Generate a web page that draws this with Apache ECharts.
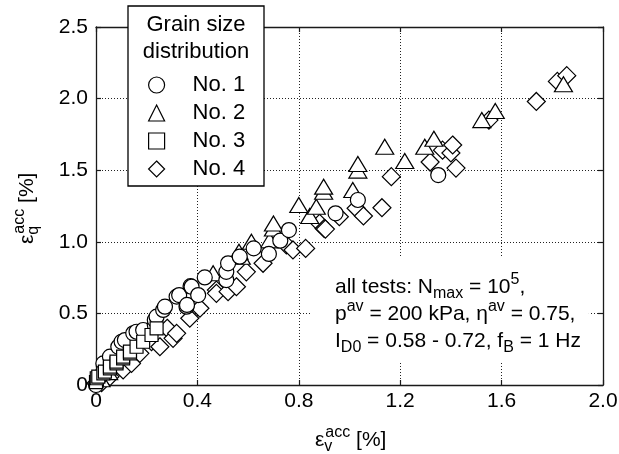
<!DOCTYPE html>
<html><head><meta charset="utf-8">
<script src="https://cdn.jsdelivr.net/npm/echarts@6/dist/echarts.min.js"></script>
<style>html,body{margin:0;padding:0;background:#fff}#c{width:619px;height:454px}</style>
</head><body><div id="c"></div>
<script>
// ---- data ----
const xTickLabels = ['0', '0.4', '0.8', '1.2', '1.6', '2.0'];
const yTickLabels = ['0', '0.5', '1.0', '1.5', '2.0', '2.5'];
const legendNames = ['No. 1', 'No. 2', 'No. 3', 'No. 4'];

// No. 1 (circles): [eps_v, eps_q]
const no1 = [[0.0,0.0],[0.015,0.06],[0.029,0.151],[0.055,0.198],[0.088,0.267],[0.101,0.302],[0.114,0.314],
  [0.147,0.361],[0.16,0.372],[0.186,0.384],[0.232,0.419],[0.232,0.454],[0.239,0.477],[0.265,0.524],
  [0.272,0.547],[0.318,0.617],[0.328,0.628],[0.357,0.547],[0.359,0.559],[0.373,0.69],[0.377,0.686],
  [0.403,0.628],[0.429,0.751],[0.514,0.733],[0.514,0.79],[0.521,0.85],[0.567,0.896],[0.622,0.954],
  [0.682,0.915],[0.727,1.008],[0.761,1.082],[0.945,1.199],[1.033,1.292],[1.35,1.466]];
// No. 2 (triangles)
const no2 = [[0.02,0.04],[0.05,0.09],[0.462,0.78],[0.564,0.93],[0.573,0.896],[0.613,1.0],[0.685,1.01],
  [0.70,1.093],[0.70,1.128],[0.80,1.257],[0.843,1.18],[0.869,1.245],[0.898,1.35],[0.898,1.385],
  [1.013,1.362],[1.033,1.497],[1.033,1.543],[1.139,1.664],[1.218,1.564],[1.297,1.664],[1.333,1.72],
  [1.522,1.85],[1.575,1.913],[1.844,2.10]];
// No. 3 (squares)
const no3 = [[0.0,0.02],[0.003,0.047],[0.009,0.058],[0.029,0.081],[0.035,0.093],[0.055,0.116],[0.055,0.128],
  [0.081,0.151],[0.081,0.163],[0.107,0.186],[0.107,0.198],[0.134,0.221],[0.134,0.233],[0.16,0.267],
  [0.186,0.302],[0.219,0.349],[0.239,0.396]];
// No. 4 (diamonds)
const no4 = [[0.0,0.012],[0.022,0.016],[0.055,0.058],[0.107,0.105],[0.14,0.151],[0.173,0.221],[0.219,0.302],
  [0.252,0.267],[0.281,0.396],[0.304,0.326],[0.318,0.361],[0.37,0.466],[0.41,0.536],[0.475,0.663],
  [0.475,0.64],[0.521,0.652],[0.554,0.686],[0.593,0.79],[0.659,0.85],[0.751,0.978],[0.777,0.943],
  [0.827,0.954],[0.882,1.129],[0.90,1.093],[0.905,1.089],[0.96,1.175],[1.026,1.234],[1.055,1.18],
  [1.128,1.238],[1.165,1.455],[1.318,1.557],[1.367,1.64],[1.40,1.62],[1.407,1.676],[1.42,1.515],
  [1.55,1.85],[1.737,1.98],[1.82,2.12],[1.857,2.16]];

// ---- chart ----
const FONT = '"Liberation Sans", Arial, Helvetica, sans-serif';
const chart = echarts.init(document.getElementById('c'), null, {renderer: 'canvas'});
const markStyle = {color: '#fff', borderColor: '#000', borderWidth: 1.2, opacity: 1};
function scatter(name, data, symbol, size) {
  return {type: 'scatter', name: name, data: data, symbol: symbol, symbolSize: size,
    itemStyle: markStyle, clip: false, emphasis: {disabled: true}, animation: false};
}
const lineC = '#1a1a1a';
function axis(pos, min, max, interval, labels, showLabel) {
  return {
    type: 'value', position: pos, min: min, max: max, interval: interval,
    axisLine: {show: true, onZero: false, lineStyle: {color: lineC, width: 1.3}},
    axisTick: {show: true, inside: true, length: 5, lineStyle: {color: lineC, width: 1.2}},
    axisLabel: {show: showLabel, fontSize: 21, color: '#000', fontFamily: FONT,
      margin: (pos === 'left' ? 8 : 6),
      formatter: function (v) { return labels[Math.round(v / interval)]; }},
    splitLine: {show: showLabel, lineStyle: {type: [1, 2], color: '#222', width: 1}}
  };
}
const subSup = {
  sub: {fontSize: 16, fontFamily: FONT, padding: [13, 0, 0, 0]},
  sup: {fontSize: 16, fontFamily: FONT, padding: [0, 0, 15, 0]},
  subS: {fontSize: 16, fontFamily: FONT, padding: [13, 0, 0, 0], width: 1}
};
chart.setOption({
  animation: false,
  backgroundColor: '#fff',
  grid: {left: 96, right: 16, top: 27, bottom: 69, containLabel: false, outerBoundsMode: 'none'},
  xAxis: [axis('bottom', 0, 2, 0.4, xTickLabels, true), axis('top', 0, 2, 0.4, xTickLabels, false)],
  yAxis: [axis('left', 0, 2.5, 0.5, yTickLabels, true), axis('right', 0, 2.5, 0.5, yTickLabels, false)],
  legend: {
    data: legendNames, orient: 'vertical', left: 148, top: 74, padding: 0,
    itemWidth: 16, itemHeight: 16, itemGap: 6, symbolKeepAspect: true,
    itemStyle: {color: '#fff', borderColor: '#000', borderWidth: 1.2},
    formatter: function (name) { return '{g| }{n|' + name + '}'; },
    textStyle: {fontSize: 22, color: '#000', fontFamily: FONT,
      rich: {g: {width: 23, fontSize: 22}, n: {fontSize: 22, fontFamily: FONT, color: '#000'}}},
    selectedMode: false, z: 12
  },
  graphic: [
    {type: 'rect', z: 10, shape: {x: 128, y: 6, width: 136, height: 180},
      style: {fill: '#fff', stroke: '#000', lineWidth: 1.3}},
    {type: 'text', z: 11, x: 196, y: 25, style: {text: 'Grain size', fontSize: 22, fontFamily: FONT,
      fill: '#000', align: 'center', verticalAlign: 'middle'}},
    {type: 'text', z: 11, x: 196, y: 52, style: {text: 'distribution', fontSize: 22, fontFamily: FONT,
      fill: '#000', align: 'center', verticalAlign: 'middle'}},
    {type: 'text', z: 11, x: 312, y: 258, style: {
      text: 'all tests: N{sub|max} = 10{sup|5},\np{sup|av} = 200 kPa, η{sup|av} = 0.75,\nI{sub|D0} = 0.58 - 0.72, f{sub|B} = 1 Hz',
      fontSize: 21, fontFamily: FONT, fill: '#000', lineHeight: 27, align: 'left', verticalAlign: 'top',
      backgroundColor: '#fff', padding: [16, 8, 6, 23], rich: subSup}},
    {type: 'text', z: 11, x: 315, y: 440, style: {
      text: 'ε{subS|v}{sup|acc} [%]', fontSize: 21, fontFamily: FONT, fill: '#000', lineHeight: 27,
      align: 'left', verticalAlign: 'middle', rich: subSup}},
    {type: 'text', z: 11, x: 27, y: 244, rotation: Math.PI / 2, style: {
      text: 'ε{subS|q}{sup|acc} [%]', fontSize: 21, fontFamily: FONT, fill: '#000', lineHeight: 27,
      align: 'left', verticalAlign: 'middle', rich: subSup}}
  ],
  series: [
    scatter('No. 4', no4, 'diamond', [18, 18]),
    scatter('No. 2', no2, 'triangle', [18, 15]),
    scatter('No. 1', no1, 'circle', 15),
    scatter('No. 3', no3, 'rect', 13)
  ]
});
</script></body></html>
